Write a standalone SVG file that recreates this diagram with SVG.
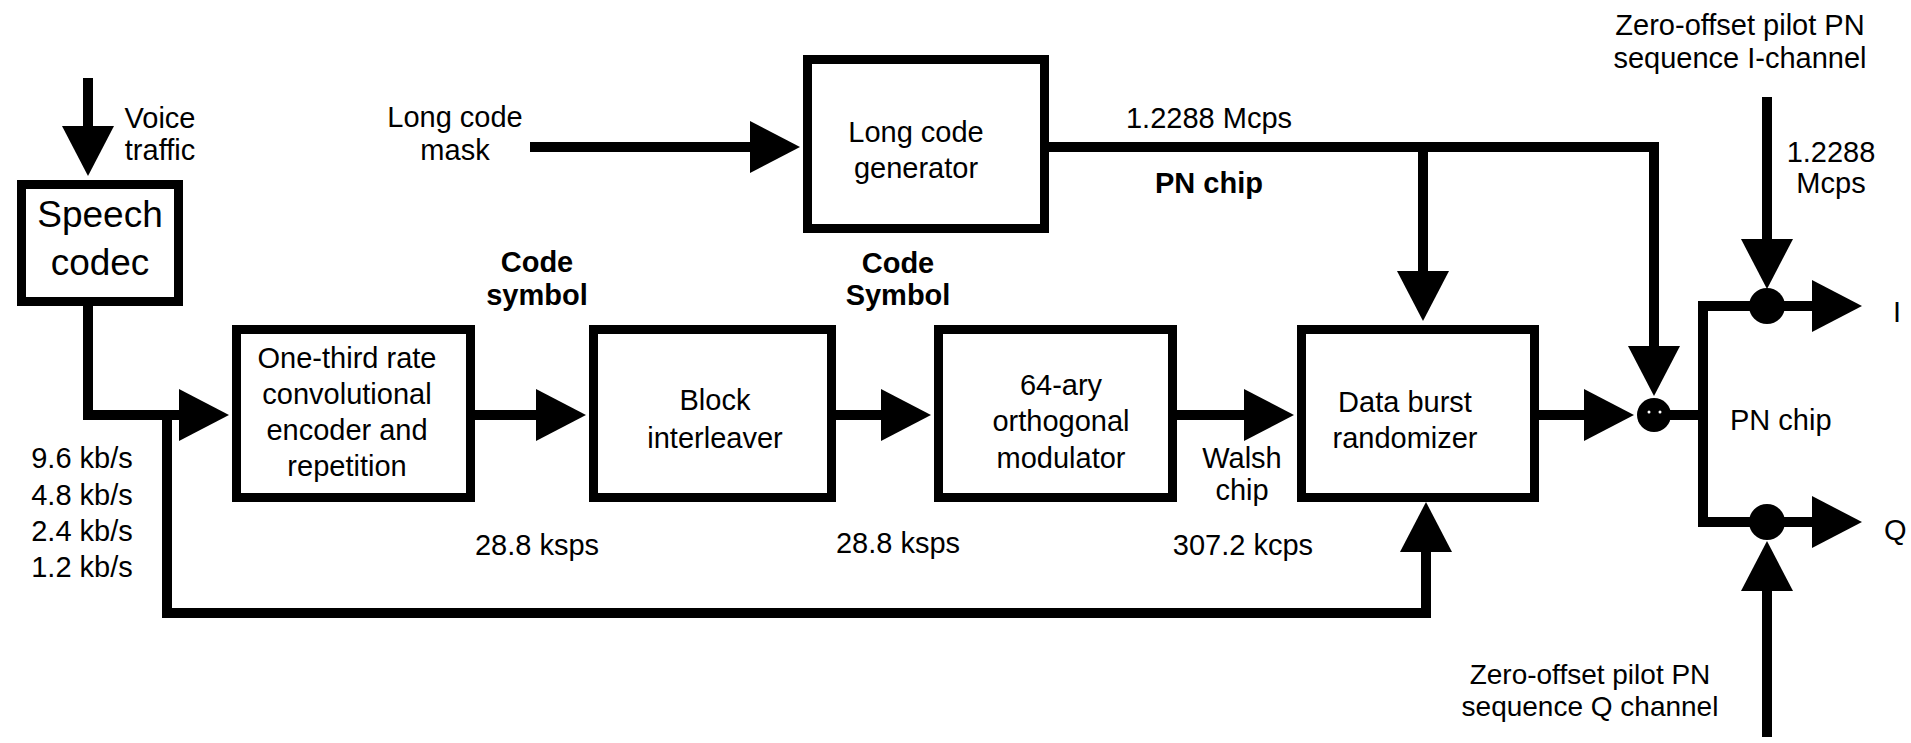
<svg xmlns="http://www.w3.org/2000/svg" width="1911" height="743" viewBox="0 0 1911 743">
  <defs>
    <style>
      .box { fill: #fff; stroke: #000; stroke-width: 9; }
      .wire { fill: none; stroke: #000; stroke-width: 10; stroke-linejoin: miter; }
      .arr { marker-end: url(#head); }
      .dot { fill: #000; }
      text { font-family: "Liberation Sans", Arial, sans-serif; font-size: 29px; fill: #000; }
      .c { text-anchor: middle; }
      .b { font-weight: bold; }
      .big { font-size: 37px; }
      .sm { font-size: 28px; }
    </style>
    <marker id="head" markerUnits="userSpaceOnUse" markerWidth="50" markerHeight="52" refX="40" refY="26" orient="auto" overflow="visible">
      <path d="M0,0 L50,26 L0,52 Z" fill="#000"/>
    </marker>
  </defs>
  <rect width="1911" height="743" fill="#fff"/>

  <!-- signal paths -->
  <g id="connectors">
    <path class="wire arr" d="M88,78 V166"/>
    <path class="wire arr" d="M88,306 V415 H219"/>
    <path class="wire arr" d="M167,415 V613 H1426 V512"/>
    <path class="wire arr" d="M475,415 H576"/>
    <path class="wire arr" d="M836,415 H921"/>
    <path class="wire arr" d="M1177,415 H1284"/>
    <path class="wire arr" d="M1539,415 H1624"/>
    <path class="wire arr" d="M530,147 H790"/>
    <path class="wire arr" d="M1049,147 H1654 V386"/>
    <path class="wire arr" d="M1423,147 V311"/>
    <path class="wire" d="M1670,415 H1703"/>
    <path class="wire" d="M1750,306 H1703 V522 H1750"/>
    <path class="wire arr" d="M1784,306 H1852"/>
    <path class="wire arr" d="M1784,522 H1852"/>
    <path class="wire arr" d="M1767,97 V279"/>
    <path class="wire arr" d="M1767,737 V551"/>
  </g>

  <g id="voice-traffic">
    <text class="c" x="160" y="128">Voice</text>
    <text class="c" x="160" y="160">traffic</text>
  </g>

  <g id="speech-codec">
    <rect class="box" x="21.5" y="184.5" width="157" height="117"/>
    <text class="c big" x="100" y="227">Speech</text>
    <text class="c big" x="100" y="275">codec</text>
  </g>

  <g id="data-rates">
    <text class="c" x="82" y="468">9.6 kb/s</text>
    <text class="c" x="82" y="505">4.8 kb/s</text>
    <text class="c" x="82" y="541">2.4 kb/s</text>
    <text class="c" x="82" y="577">1.2 kb/s</text>
  </g>

  <g id="long-code-mask">
    <text class="c" x="455" y="127">Long code</text>
    <text class="c" x="455" y="160">mask</text>
  </g>

  <g id="long-code-generator">
    <rect class="box" x="807.5" y="59.5" width="237" height="169"/>
    <text class="c" x="916" y="142">Long code</text>
    <text class="c" x="916" y="178">generator</text>
  </g>

  <g id="pn-rate-label">
    <text class="c" x="1209" y="128">1.2288  Mcps</text>
    <text class="c b" x="1209" y="193">PN chip</text>
  </g>

  <g id="convolutional-encoder">
    <rect class="box" x="236.5" y="329.5" width="234" height="168"/>
    <text class="c" x="347" y="368">One-third rate</text>
    <text class="c" x="347" y="404">convolutional</text>
    <text class="c" x="347" y="440">encoder and</text>
    <text class="c" x="347" y="476">repetition</text>
  </g>

  <g id="code-symbol-1">
    <text class="c b" x="537" y="272">Code</text>
    <text class="c b" x="537" y="305">symbol</text>
    <text class="c" x="537" y="555">28.8 ksps</text>
  </g>

  <g id="block-interleaver">
    <rect class="box" x="593.5" y="329.5" width="238" height="168"/>
    <text class="c" x="715" y="410">Block</text>
    <text class="c" x="715" y="448">interleaver</text>
  </g>

  <g id="code-symbol-2">
    <text class="c b" x="898" y="273">Code</text>
    <text class="c b" x="898" y="305">Symbol</text>
    <text class="c" x="898" y="553">28.8 ksps</text>
  </g>

  <g id="orthogonal-modulator">
    <rect class="box" x="938.5" y="329.5" width="234" height="168"/>
    <text class="c" x="1061" y="395">64-ary</text>
    <text class="c" x="1061" y="431">orthogonal</text>
    <text class="c" x="1061" y="468">modulator</text>
  </g>

  <g id="walsh-chip">
    <text class="c" x="1242" y="468">Walsh</text>
    <text class="c" x="1242" y="500">chip</text>
    <text class="c" x="1243" y="555">307.2 kcps</text>
  </g>

  <g id="data-burst-randomizer">
    <rect class="box" x="1301.5" y="329.5" width="233" height="168"/>
    <text class="c" x="1405" y="412">Data burst</text>
    <text class="c" x="1405" y="448">randomizer</text>
  </g>

  <g id="long-code-mixer">
    <circle class="dot" cx="1654" cy="415" r="17"/>
    <circle cx="1649" cy="412" r="1.5" fill="#fff"/>
    <circle cx="1660" cy="412" r="1.5" fill="#fff"/>
  </g>

  <g id="pilot-i">
    <text class="c" x="1740" y="35">Zero-offset pilot PN</text>
    <text class="c" x="1740" y="68">sequence I-channel</text>
    <text class="c" x="1831" y="162">1.2288</text>
    <text class="c" x="1831" y="193">Mcps</text>
  </g>

  <g id="i-mixer">
    <circle class="dot" cx="1767" cy="306" r="18"/>
    <text x="1893" y="322">I</text>
  </g>

  <g id="pn-chip-right">
    <text x="1730" y="430">PN chip</text>
  </g>

  <g id="q-mixer">
    <circle class="dot" cx="1767" cy="522" r="18"/>
    <text x="1884" y="540">Q</text>
  </g>

  <g id="pilot-q">
    <text class="c sm" x="1590" y="684">Zero-offset pilot PN</text>
    <text class="c sm" x="1590" y="716">sequence Q channel</text>
  </g>
</svg>
